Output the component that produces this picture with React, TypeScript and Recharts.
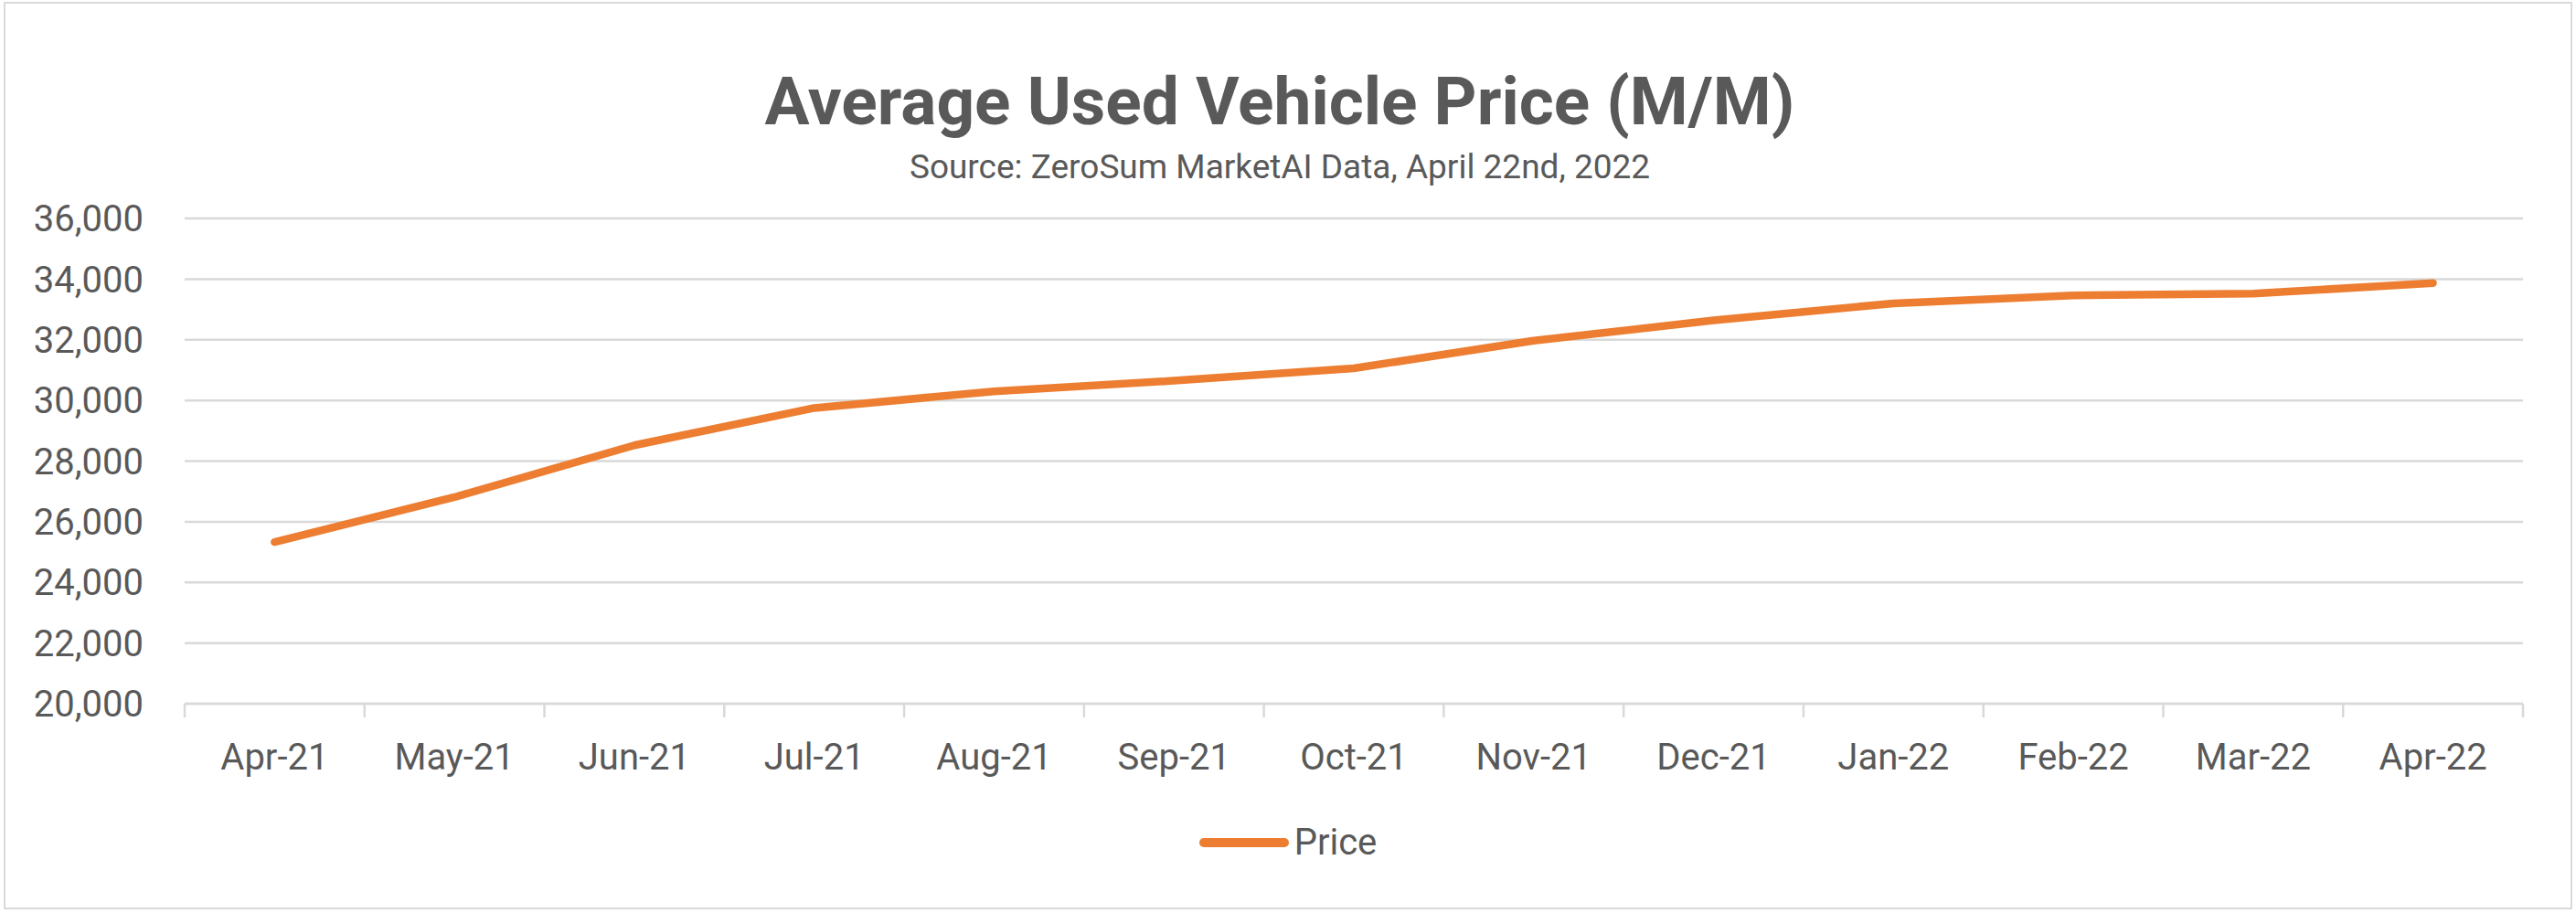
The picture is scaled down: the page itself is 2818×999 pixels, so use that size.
import React from 'react';
import { LineChart, Line, XAxis, YAxis, CartesianGrid, Legend } from 'recharts';

const months = ['Apr-21', 'May-21', 'Jun-21', 'Jul-21', 'Aug-21', 'Sep-21', 'Oct-21', 'Nov-21', 'Dec-21', 'Jan-22', 'Feb-22', 'Mar-22', 'Apr-22'];
const prices = [25330, 26810, 28520, 29750, 30300, 30650, 31060, 31970, 32640, 33200, 33460, 33520, 33870];
const yTicks = [20000, 22000, 24000, 26000, 28000, 30000, 32000, 34000, 36000];

const data = months.map((month, i) => ({ month, price: prices[i] }));

const W = 2818;
const H = 999;
const textColor = '#595959';
const gridColor = '#d9d9d9';
const lineColor = '#ed7d31';
const font = 'Roboto, "Noto Sans", sans-serif';

// label at the band centre, Excel-style tick marks on the band edges
const MonthTick = (props: any) => {
    const { x, y, payload, index } = props;
    const half = payload?.offset || 0;
    const axisY = y - 43;
    return (
        <g>
            <line x1={x - half} x2={x - half} y1={axisY} y2={axisY + 15} stroke={gridColor} strokeWidth={2.5} />
            {index === months.length - 1 && (
                <line x1={x + half} x2={x + half} y1={axisY} y2={axisY + 15} stroke={gridColor} strokeWidth={2.5} />
            )}
            <text x={x} y={y} dy={29} textAnchor="middle" fill={textColor} fontSize={40} fontFamily={font}>
                {payload.value}
            </text>
        </g>
    );
};

const renderLegend = () => (
    <div style={{ display: 'flex', justifyContent: 'center', alignItems: 'center', height: 80, fontFamily: font }}>
        <span style={{ display: 'inline-block', width: 98, height: 10, borderRadius: 5, background: lineColor, marginRight: 6 }} />
        <span style={{ fontSize: 40, color: textColor, lineHeight: '40px' }}>Price</span>
    </div>
);

const App: React.FC = () => {
    return (
        <div style={{ position: 'fixed', left: 0, top: 0, width: W, height: H, background: '#fff', fontFamily: font }}>
            <div style={{ position: 'absolute', left: 4, top: 2, width: W - 12, height: H - 10, border: `2px solid ${gridColor}` }} />
            <div style={{ position: 'absolute', left: 0, width: 2800, top: 68, textAlign: 'center', fontSize: 73, fontWeight: 700, color: textColor, lineHeight: '86px' }}>
                Average Used Vehicle Price (M/M)
            </div>
            <div style={{ position: 'absolute', left: 0, width: 2800, top: 161, textAlign: 'center', fontSize: 37, color: textColor, lineHeight: '44px' }}>
                Source: ZeroSum MarketAI Data, April 22nd, 2022
            </div>
            <LineChart width={W} height={H} data={data} margin={{ top: 239, right: 58, left: 12, bottom: 37 }}>
                <CartesianGrid horizontal vertical={false} stroke={gridColor} strokeWidth={2.5} />
                <XAxis
                    dataKey="month"
                    scale="band"
                    height={112}
                    stroke={gridColor}
                    strokeWidth={2.5}
                    tickLine={false}
                    tickSize={0}
                    tickMargin={43}
                    interval={0}
                    tick={<MonthTick />}
                />
                <YAxis
                    domain={[20000, 36000]}
                    ticks={yTicks}
                    width={190}
                    axisLine={false}
                    tickLine={false}
                    tickSize={0}
                    tickMargin={45}
                    tickFormatter={(v: number) => v.toLocaleString('en-US')}
                    tick={{ fill: textColor, fontSize: 40, fontFamily: font }}
                />
                <Legend
                    verticalAlign="bottom"
                    content={renderLegend}
                    wrapperStyle={{ left: 0, width: W, height: 80 }}
                />
                <Line
                    dataKey="price"
                    name="Price"
                    stroke={lineColor}
                    strokeWidth={8.5}
                    strokeLinecap="round"
                    strokeLinejoin="round"
                    dot={false}
                    activeDot={false}
                    isAnimationActive={false}
                />
            </LineChart>
        </div>
    );
};

export default App;
